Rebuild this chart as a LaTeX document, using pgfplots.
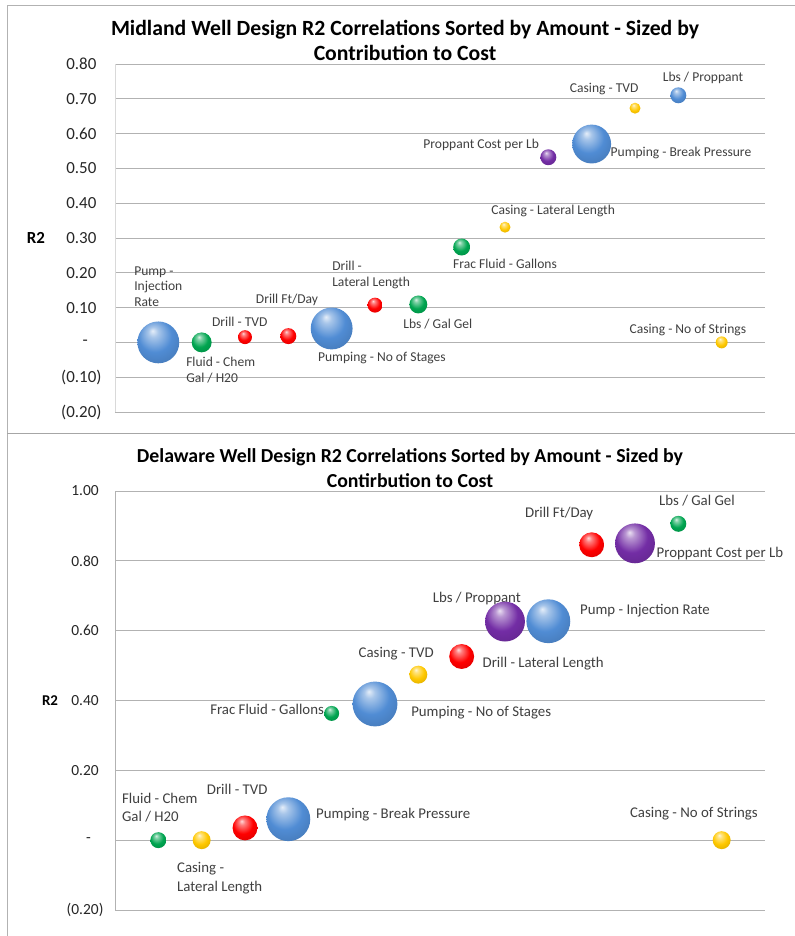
\documentclass[border=0pt]{standalone}
\usepackage{fontspec}
\setmainfont{Carlito}
\usepackage{pgfplots}
\pgfplotsset{compat=1.18}
\definecolor{cblue}{RGB}{80,140,212}
\definecolor{cgreen}{RGB}{0,165,80}
\definecolor{cred}{RGB}{255,0,0}
\definecolor{cyellow}{RGB}{255,200,0}
\definecolor{cpurple}{RGB}{115,45,165}
\definecolor{lblcol}{RGB}{64,64,64}
\newcommand\mkball[1]{%
  \pgfdeclareradialshading{sh#1}{\pgfqpoint{-7bp}{14bp}}{%
    color(0bp)=(c#1!15!white); color(6bp)=(c#1!50!white); color(20bp)=(c#1);
    color(36bp)=(c#1!85!black); color(50bp)=(c#1!55!black)}%
  \pgfdeclareplotmark{ball#1}{\pgfpathcircle{\pgfpointorigin}{\pgfplotmarksize}\pgfshadepath{sh#1}{0}\pgfusepath{discard}}}
\mkball{blue}\mkball{green}\mkball{red}\mkball{yellow}\mkball{purple}

\tikzset{
  lblA/.style={font=\fontsize{13.6}{15.7}\selectfont, text=lblcol, inner sep=0pt},
  lblB/.style={font=\fontsize{14.9}{18.5}\selectfont, text=lblcol, inner sep=0pt}
}
\pgfplotsset{
  bubbles/.style={scatter, only marks, mark=ball#1,
    visualization depends on={\thisrow{r} \as \rad},
    scatter/@pre marker code/.append style={/tikz/mark size=\rad}},
  common/.style={scale only axis, width=650bp, xmin=0, xmax=15, xtick=\empty,
    axis line style={draw=none}, ymajorgrids, grid style={black!30, line width=0.8bp},
    ytick style={draw=none}, clip=false,
    yticklabel style={anchor=east, text=black!85}}
}

\begin{document}
\begin{tikzpicture}
\useasboundingbox (0,0) rectangle (795bp,936bp);
\fill[white] (0,0) rectangle (795bp,936bp);
\draw[black!30, line width=1bp] (795bp,930bp) -- (7bp,930bp) -- (7bp,0bp);
\draw[black!35, line width=1bp] (7bp,502bp) -- (795bp,502bp);

% ---------------- Midland ----------------
\begin{axis}[common, at={(115bp,524bp)}, anchor=south west, height=348bp,
  ymin=-0.2, ymax=0.8,
  ytick={-0.2,-0.1,0,0.1,0.2,0.3,0.4,0.5,0.6,0.7,0.8},
  yticklabels={(0.20),(0.10),-\hphantom{0)},0.10\hphantom{)},0.20\hphantom{)},0.30\hphantom{)},0.40\hphantom{)},0.50\hphantom{)},0.60\hphantom{)},0.70\hphantom{)},0.80\hphantom{)}},
  yticklabel style={font=\fontsize{17}{20}\selectfont, xshift=-10bp}]
\draw[black!15, line width=0.8bp] (rel axis cs:0,0) -- (rel axis cs:0,1);
\addplot[bubbles=blue] table {
x y r
1 0.000 21
5 0.040 21
11 0.570 19.5
13 0.710 8
};
\addplot[bubbles=green] table {
x y r
2 0.000 10
7 0.109 9
8 0.274 8.5
};
\addplot[bubbles=red] table {
x y r
3 0.015 7
4 0.018 8
6 0.107 7.5
};
\addplot[bubbles=yellow] table {
x y r
9 0.331 5.5
12 0.673 5.5
14 0.000 6
};
\addplot[bubbles=purple] table {
x y r
10 0.532 8
};
\node[lblA, anchor=north west, align=left] at (axis cs:0.44,0.219) {Pump -\\Injection\\Rate};
\node[lblA, anchor=north west, align=left] at (axis cs:1.64,-0.043) {Fluid - Chem\\Gal / H20};
\node[lblA] at (axis cs:2.88,0.058) {Drill - TVD};
\node[lblA] at (axis cs:3.97,0.121) {Drill Ft/Day};
\node[lblA] at (axis cs:6.16,-0.046) {Pumping - No of Stages};
\node[lblA, anchor=north west, align=left] at (axis cs:5.01,0.234) {Drill -\\Lateral Length};
\node[lblA] at (axis cs:7.45,0.052) {Lbs / Gal Gel};
\node[lblA] at (axis cs:9.0,0.227) {Frac Fluid - Gallons};
\node[lblA] at (axis cs:10.11,0.377) {Casing - Lateral Length};
\node[lblA] at (axis cs:8.45,0.567) {Proppant Cost per Lb};
\node[lblA] at (axis cs:13.06,0.544) {Pumping - Break Pressure};
\node[lblA] at (axis cs:11.29,0.728) {Casing - TVD};
\node[lblA] at (axis cs:13.57,0.760) {Lbs / Proppant};
\node[lblA] at (axis cs:13.22,0.037) {Casing - No of Strings};
\node[font=\bfseries\fontsize{17}{20}\selectfont] at ([xshift=-79bp]rel axis cs:0,0.5) {R2};
\end{axis}
\node[font=\bfseries\fontsize{21.8}{25}\selectfont, align=center] at (405bp,895.5bp) {Midland Well Design R2 Correlations Sorted by Amount - Sized by\\Contribution to Cost};

% ---------------- Delaware ----------------
\begin{axis}[common, at={(115bp,26bp)}, anchor=south west, height=419bp,
  ymin=-0.2, ymax=1.0,
  ytick={-0.2,0,0.2,0.4,0.6,0.8,1.0},
  yticklabels={(0.20),-\hphantom{0)},0.20\hphantom{)},0.40\hphantom{)},0.60\hphantom{)},0.80\hphantom{)},1.00\hphantom{)}},
  yticklabel style={font=\fontsize{15.5}{17}\selectfont, xshift=-8bp}]
\draw[black!30, line width=0.8bp] (rel axis cs:0,0) -- (rel axis cs:0,1);
\addplot[bubbles=blue] table {
x y r
4 0.060 22
6 0.390 22.5
10 0.627 22
};
\addplot[bubbles=green] table {
x y r
1 0.000 8
5 0.363 7.5
13 0.906 8
};
\addplot[bubbles=red] table {
x y r
3 0.035 12.5
8 0.526 12.5
11 0.846 12.5
};
\addplot[bubbles=yellow] table {
x y r
2 0.000 9
7 0.474 9
14 0.000 9
};
\addplot[bubbles=purple] table {
x y r
9 0.626 20
12 0.850 20
};
\node[lblB, anchor=north west, align=left] at (axis cs:0.16,0.135) {Fluid - Chem\\Gal / H20};
\node[lblB] at (axis cs:2.82,0.146) {Drill - TVD};
\node[lblB, anchor=north west, align=left] at (axis cs:1.43,-0.063) {Casing -\\Lateral Length};
\node[lblB] at (axis cs:6.42,0.072) {Pumping - Break Pressure};
\node[lblB] at (axis cs:3.51,0.375) {Frac Fluid - Gallons};
\node[lblB] at (axis cs:6.49,0.533) {Casing - TVD};
\node[lblB] at (axis cs:8.45,0.364) {Pumping - No of Stages};
\node[lblB] at (axis cs:9.88,0.507) {Drill - Lateral Length};
\node[lblB] at (axis cs:8.35,0.693) {Lbs / Proppant};
\node[lblB] at (axis cs:12.23,0.656) {Pump - Injection Rate};
\node[lblB] at (axis cs:10.25,0.934) {Drill Ft/Day};
\node[lblB] at (axis cs:13.96,0.822) {Proppant Cost per Lb};
\node[lblB] at (axis cs:13.43,0.971) {Lbs / Gal Gel};
\node[lblB] at (axis cs:13.36,0.077) {Casing - No of Strings};
\node[font=\bfseries\fontsize{15}{17}\selectfont] at ([xshift=-65bp]rel axis cs:0,0.5) {R2};
\end{axis}
\node[font=\bfseries\fontsize{19.9}{25}\selectfont, align=center] at (410bp,467.5bp) {Delaware Well Design R2 Correlations Sorted by Amount - Sized by\\Contirbution to Cost};
\end{tikzpicture}
\end{document}
